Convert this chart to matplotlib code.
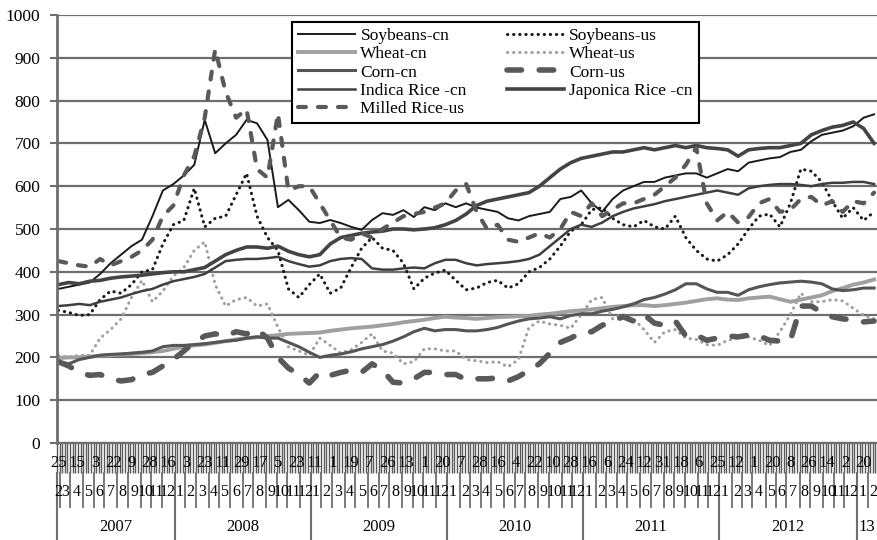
#!/usr/bin/env python
# -*- coding: utf-8 -*-
"""
Weekly grain prices, China vs US, 2007-2013.
"""

import datetime
import itertools

import numpy as np
import matplotlib
matplotlib.use('Agg')
import matplotlib.pyplot as plt
from matplotlib.transforms import blended_transform_factory

# Sunday weeks from 2007-02-25, prices sampled every 4th week
first_week = datetime.date(2007, 2, 25)
n_weeks = 314
sample_step = 4

soybeans_cn = [360, 365, 370, 375, 395, 420, 440, 460, 475, 530, 590, 605,
               625, 650, 755, 677, 700, 720, 755, 747, 708, 551, 568, 544, 517,
               514, 521, 514, 505, 498, 521, 537, 533, 544, 528, 551, 544, 560,
               551, 560, 550, 545, 540, 525, 520, 530, 535, 540, 570, 575, 590,
               560, 540, 570, 590, 600, 610, 610, 620, 625, 630, 630, 620, 630,
               640, 635, 655, 660, 665, 668, 680, 685, 705, 720, 725, 730, 740, 760, 768]
soybeans_us = [310, 305, 298, 300, 335, 355, 350, 370, 400, 405, 465, 510,
               520, 595, 505, 525, 530, 580, 630, 530, 480, 450, 360, 340, 370,
               395, 350, 362, 410, 455, 480, 455, 450, 420, 360, 385, 397, 404,
               380, 358, 362, 375, 380, 362, 372, 400, 410, 430, 460, 495, 510,
               545, 550, 525, 510, 505, 520, 505, 500, 530, 480, 450, 430, 425,
               440, 465, 500, 530, 535, 505, 560, 640, 635, 610, 565, 525, 550, 520, 540]
wheat_cn = [198, 200, 200, 202, 204, 205, 207, 208, 210, 212, 215, 220,
            225, 228, 230, 234, 238, 242, 245, 247, 250, 252, 255, 256, 257,
            258, 262, 265, 268, 270, 272, 275, 278, 282, 285, 288, 292, 295,
            293, 292, 290, 292, 294, 295, 296, 297, 300, 302, 305, 308, 310,
            312, 315, 318, 320, 322, 322, 320, 322, 325, 328, 332, 336, 338,
            335, 334, 338, 340, 342, 336, 330, 335, 340, 345, 355, 362, 370, 375, 382]
wheat_us = [205, 200, 205, 205, 245, 265, 290, 340, 380, 330, 355, 390,
            410, 450, 470, 370, 320, 335, 340, 320, 325, 270, 225, 215, 205,
            245, 228, 210, 218, 235, 255, 215, 210, 185, 190, 220, 220, 215,
            215, 195, 192, 188, 190, 178, 195, 270, 285, 278, 275, 268, 300,
            335, 340, 290, 300, 290, 265, 235, 260, 265, 245, 242, 230, 228,
            240, 245, 248, 240, 228, 260, 300, 350, 330, 330, 335, 332, 315, 298, 290]
corn_cn = [190, 185, 195, 200, 205, 207, 208, 210, 212, 215, 225, 228,
           228, 230, 232, 235, 238, 240, 245, 248, 245, 245, 235, 225, 212,
           200, 205, 208, 213, 220, 225, 230, 238, 248, 260, 268, 262, 265,
           265, 262, 262, 265, 270, 278, 285, 290, 292, 295, 290, 298, 302,
           302, 308, 312, 318, 325, 335, 340, 348, 358, 372, 372, 360, 352,
           352, 345, 358, 365, 370, 374, 376, 378, 376, 372, 360, 356, 358, 362, 362]
corn_us = [190, 180, 165, 158, 160, 150, 145, 148, 160, 165, 180, 195,
           215, 235, 250, 255, 250, 260, 255, 265, 245, 200, 175, 160, 140,
           165, 158, 165, 170, 165, 185, 170, 142, 140, 150, 165, 165, 160,
           160, 148, 150, 150, 152, 145, 155, 170, 185, 210, 235, 245, 258,
           260, 275, 285, 295, 285, 300, 280, 275, 285, 250, 252, 240, 245,
           250, 248, 252, 250, 240, 238, 240, 320, 320, 305, 295, 290, 288, 283, 285]
indica_rice_cn = [320, 322, 325, 322, 330, 335, 340, 348, 355, 360, 370, 378,
                  383, 388, 395, 410, 425, 428, 430, 430, 432, 435, 425, 418, 412,
                  415, 425, 430, 432, 430, 408, 405, 405, 408, 410, 408, 420, 428,
                  428, 420, 415, 418, 420, 422, 425, 430, 440, 460, 480, 500, 510,
                  505, 515, 530, 540, 548, 553, 558, 565, 570, 575, 580, 585, 590,
                  585, 580, 595, 600, 603, 605, 605, 603, 600, 605, 608, 608, 610, 610, 605]
japonica_rice_cn = [370, 375, 372, 378, 380, 385, 388, 390, 392, 395, 398, 400,
                    400, 405, 410, 425, 440, 450, 458, 458, 455, 460, 448, 440, 435,
                    440, 465, 480, 485, 490, 493, 495, 500, 500, 498, 500, 503, 510,
                    520, 535, 555, 565, 570, 575, 580, 585, 600, 620, 640, 655, 665,
                    670, 675, 680, 680, 685, 690, 685, 690, 695, 690, 695, 690, 688,
                    685, 670, 685, 688, 690, 690, 695, 700, 720, 730, 738, 742, 750, 735, 700]
milled_rice_us = [425, 420, 415, 412, 430, 415, 425, 435, 450, 475, 530, 555,
                  625, 670, 760, 920, 820, 760, 780, 640, 620, 770, 590, 600, 600,
                  560, 520, 480, 475, 490, 480, 500, 515, 530, 535, 540, 550, 560,
                  590, 605, 540, 500, 510, 475, 470, 480, 490, 480, 500, 540, 530,
                  560, 530, 545, 560, 560, 570, 580, 600, 620, 650, 690, 560, 520,
                  540, 515, 528, 560, 570, 540, 545, 570, 575, 555, 565, 540, 565, 560, 585]

GRID = '#6e6e6e'
DOT = (0, (0.1, 1.9))


def draw_category_axis(ax, dates):
    """Excel-style three level axis: day / month / year."""
    trans = blended_transform_factory(ax.transData, ax.transAxes)
    weeks = np.arange(len(dates))

    # one tick line per week
    ax.set_xticks(np.arange(len(dates) + 1) - 0.5)
    ax.set_xticklabels([])
    ax.tick_params(axis='x', length=21.6, width=1.0, color='#5a5a5a', direction='out')

    for w in weeks[::7]:
        ax.text(w, -0.047, str(dates[w].day), transform=trans,
                ha='center', va='center', fontsize=12)

    def groups(key):
        for k, grp in itertools.groupby(weeks, key=lambda w: key(dates[w])):
            grp = list(grp)
            yield k, grp[0], grp[-1]

    for month, w0, w1 in groups(lambda d: (d.year, d.month)):
        ax.text((w0 + w1) / 2.0, -0.1145, str(month[1]), transform=trans,
                ha='center', va='center', fontsize=11.5)
        if w0 > 0:
            ax.plot([w0 - 0.5, w0 - 0.5], [-0.07, -0.1495], transform=trans,
                    color=GRID, lw=1.3, clip_on=False)

    for year, w0, w1 in groups(lambda d: d.year):
        if w1 - w0 > 20:
            ax.text((w0 + w1) / 2.0, -0.196, str(year), transform=trans,
                    ha='center', va='center', fontsize=12)
        else:
            # short last group only has room for two digits
            ax.text(w0, -0.196, str(year)[-2:], transform=trans,
                    ha='left', va='center', fontsize=12)
        ax.plot([w0 - 0.5, w0 - 0.5], [-0.07, -0.23], transform=trans,
                color=GRID, lw=1.5, clip_on=False)


def generate_price_plot():
    plt.rcParams['font.family'] = ['Liberation Serif', 'DejaVu Serif']
    plt.rcParams['font.size'] = 12

    dates = [first_week + datetime.timedelta(weeks=w) for w in range(n_weeks)]
    x = np.arange(0, len(soybeans_cn) * sample_step, sample_step)

    fig = plt.figure(figsize=(8.78, 5.40), dpi=100)
    ax = fig.add_axes([57 / 878.0, 97 / 540.0, 821 / 878.0, 428 / 540.0])

    l_soy_cn, = ax.plot(x, soybeans_cn, color='#1a1a1a', lw=1.4, label='Soybeans-cn')
    l_soy_us, = ax.plot(x, soybeans_us, color='#1a1a1a', lw=2.2, ls=DOT,
                        dash_capstyle='round', label='Soybeans-us')
    l_wheat_cn, = ax.plot(x, wheat_cn, color='#a0a0a0', lw=2.8, label='Wheat-cn')
    l_wheat_us, = ax.plot(x, wheat_us, color='#a0a0a0', lw=2.2, ls=DOT,
                          dash_capstyle='round', label='Wheat-us')
    l_corn_cn, = ax.plot(x, corn_cn, color='#555555', lw=2.2, label='Corn-cn')
    l_corn_us, = ax.plot(x, corn_us, color='#595959', lw=4.0, ls=(0, (2.6, 3.2)),
                         dash_capstyle='round', label='Corn-us')
    l_indica, = ax.plot(x, indica_rice_cn, color='#3f3f3f', lw=1.8,
                        label='Indica Rice -cn')
    l_japonica, = ax.plot(x, japonica_rice_cn, color='#444444', lw=2.6,
                          label='Japonica Rice -cn')
    l_milled, = ax.plot(x, milled_rice_us, color='#595959', lw=3.0,
                        ls=(0, (1.9, 2.9)), dash_capstyle='round',
                        label='Milled Rice-us')

    ax.set_xlim(-0.5, n_weeks - 0.5)
    ax.set_ylim(0, 1000)
    ax.set_yticks(np.arange(0, 1001, 100))
    ax.tick_params(axis='y', length=5, width=1.5, color=GRID, pad=7, labelsize=12.5)
    ax.yaxis.grid(True, color=GRID, lw=1.6)
    ax.set_axisbelow(True)

    for side in ('top', 'right'):
        ax.spines[side].set_visible(False)
    ax.spines['left'].set_color(GRID)
    ax.spines['left'].set_linewidth(2.0)
    ax.spines['bottom'].set_color(GRID)
    ax.spines['bottom'].set_linewidth(1.6)

    draw_category_axis(ax, dates)

    handles = [l_soy_cn, l_wheat_cn, l_corn_cn, l_indica, l_milled,
               l_soy_us, l_wheat_us, l_corn_us, l_japonica]
    leg = ax.legend(handles=handles, loc='upper left', bbox_to_anchor=(0.286, 0.984),
                    ncol=2, fancybox=False, edgecolor='black', framealpha=1,
                    handlelength=3.3, columnspacing=2.3, labelspacing=0.12,
                    handletextpad=0.3, borderpad=0.35, borderaxespad=0, fontsize=12.5)
    leg.get_frame().set_linewidth(1.5)

    fig.savefig('out.png', dpi=100)


def main():
    generate_price_plot()


if __name__ == "__main__":
    main()
